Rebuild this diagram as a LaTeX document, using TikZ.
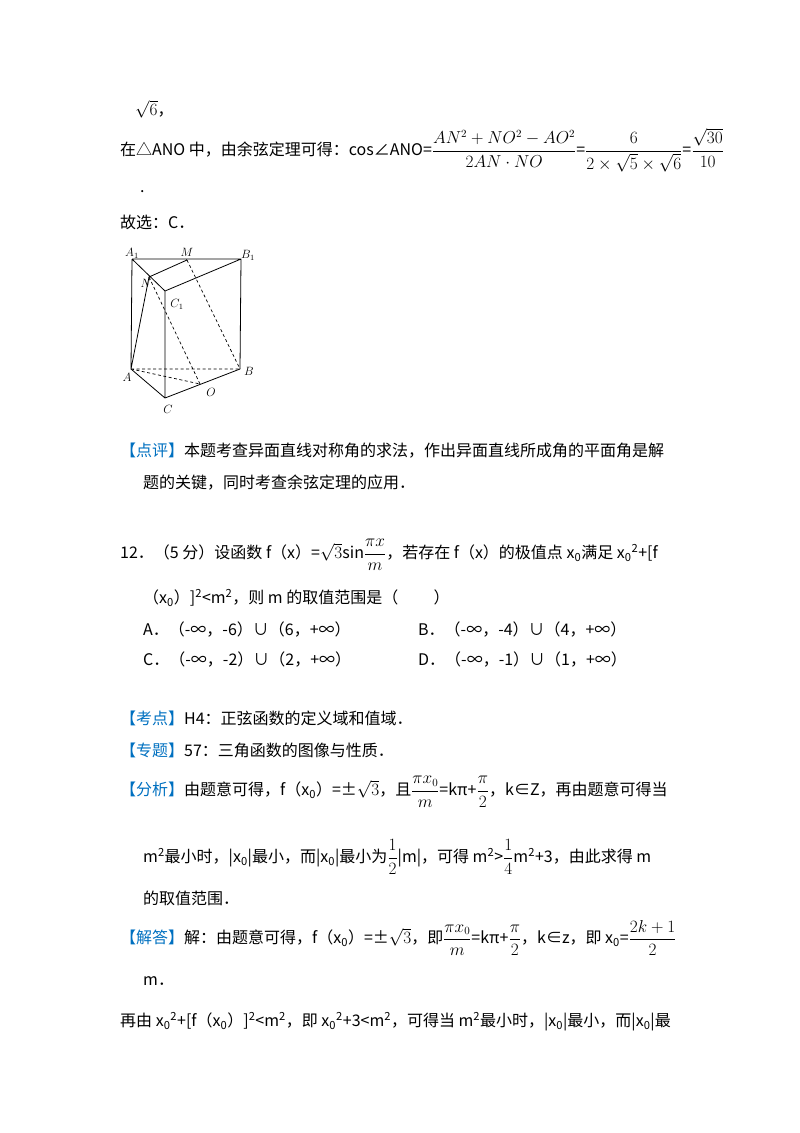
\documentclass[tikz,border=0pt]{standalone}
\usepackage{fontspec}
\setmainfont{Noto Sans CJK SC}
\usepackage{amsmath}
\definecolor{kb}{RGB}{0,112,192}
\begin{document}
\begin{tikzpicture}[x=1pt,y=-1pt,
  t/.style={anchor=west,inner sep=0,font=\fontsize{16}{19}\selectfont},
  lab/.style={inner sep=0,font=\fontsize{12}{14}\selectfont},
  edge/.style={line width=0.8pt},
  hid/.style={line width=0.7pt,dashed,dash pattern=on 3pt off 2.5pt}]
\useasboundingbox (0,0) rectangle (800,1133);
\newcommand{\kb}[1]{\textcolor{kb}{【#1】}}
% text
\node[t] (l1) at (135,109) {$\sqrt{6}$，};
\node[t] (l2) at (120,150) {在△ANO 中，由余弦定理可得：cos∠ANO=$\dfrac{AN^2+NO^2-AO^2}{2AN\cdot NO}$=$\dfrac{6}{2\times\sqrt5\times\sqrt6}$=$\dfrac{\sqrt{30}}{10}$};
\node[t] (l3) at (140,192) {.};
\node[t] (l4) at (120,222) {故选：C．};
\node[t] (l5) at (120,451) {\kb{点评}本题考查异面直线对称角的求法，作出异面直线所成角的平面角是解};
\node[t] (l6) at (143,483) {题的关键，同时考查余弦定理的应用．};
\node[t] (l7) at (120,555) {12．（5 分）设函数 f（x）=$\sqrt3$sin$\dfrac{\pi x}{m}$，若存在 f（x）的极值点 x\textsubscript{0}满足 x\textsubscript{0}\textsuperscript{2}+[f};
\node[t] (l8) at (143,598) {（x\textsubscript{0}）]\textsuperscript{2}<m\textsuperscript{2}，则 m 的取值范围是（\hspace{2.2em}）};
\node[t] (oA) at (143,629) {A．（-∞，-6）∪（6，+∞）};
\node[t] (oB) at (418,629) {B．（-∞，-4）∪（4，+∞）};
\node[t] (oC) at (143,659) {C．（-∞，-2）∪（2，+∞）};
\node[t] (oD) at (418,659) {D．（-∞，-1）∪（1，+∞）};
\node[t] (l9) at (120,718) {\kb{考点}H4：正弦函数的定义域和值域．};
\node[t] (l10) at (120,750) {\kb{专题}57：三角函数的图像与性质．};
\node[t] (l11) at (120,792) {\kb{分析}由题意可得，f（x\textsubscript{0}）=±$\sqrt3$，且$\dfrac{\pi x_0}{m}$=kπ+$\dfrac{\pi}{2}$，k∈Z，再由题意可得当};
\node[t] (l12) at (143,857) {m\textsuperscript{2}最小时，|x\textsubscript{0}|最小，而|x\textsubscript{0}|最小为$\dfrac12$|m|，可得 m\textsuperscript{2}>$\dfrac14$m\textsuperscript{2}+3，由此求得 m};
\node[t] (l13) at (143,898) {的取值范围．};
\node[t] (l14) at (120,938) {\kb{解答}解：由题意可得，f（x\textsubscript{0}）=±$\sqrt3$，即$\dfrac{\pi x_0}{m}$=kπ+$\dfrac{\pi}{2}$，k∈z，即 x\textsubscript{0}=$\dfrac{2k+1}{2}$};
\node[t] (l15) at (143,981) {m．};
\node[t] (l16) at (120,1022) {再由 x\textsubscript{0}\textsuperscript{2}+[f（x\textsubscript{0}）]\textsuperscript{2}<m\textsuperscript{2}，即 x\textsubscript{0}\textsuperscript{2}+3<m\textsuperscript{2}，可得当 m\textsuperscript{2}最小时，|x\textsubscript{0}|最小，而|x\textsubscript{0}|最};
% figure
\coordinate (A1) at (132,259);
\coordinate (M) at (187,260);
\coordinate (B1) at (241,259);
\coordinate (N) at (149,277);
\coordinate (C1) at (165,291);
\coordinate (A) at (131,369);
\coordinate (B) at (240,369);
\coordinate (C) at (165,398);
\coordinate (O) at (200,384);
\draw[edge] (A1)--(B1)--(B) (A1)--(C1)--(B1) (M)--(N)--(A) (A1)--(A)--(C)--(B) (C1)--(C);
\draw[hid] (A)--(B) (A)--(O) (N)--(O) (M)--(B);
\node[lab] (tA1) at (132,253) {$A_1$};
\node[lab] (tM) at (187,252) {$M$};
\node[lab] (tB1) at (248,255) {$B_1$};
\node[lab] (tN) at (146,283) {$N$};
\node[lab] (tC1) at (177,304) {$C_1$};
\node[lab] (tA) at (127,377) {$A$};
\node[lab] (tB) at (249,371) {$B$};
\node[lab] (tO) at (211,392) {$O$};
\node[lab] (tC) at (168,409) {$C$};
\end{tikzpicture}
\end{document}
